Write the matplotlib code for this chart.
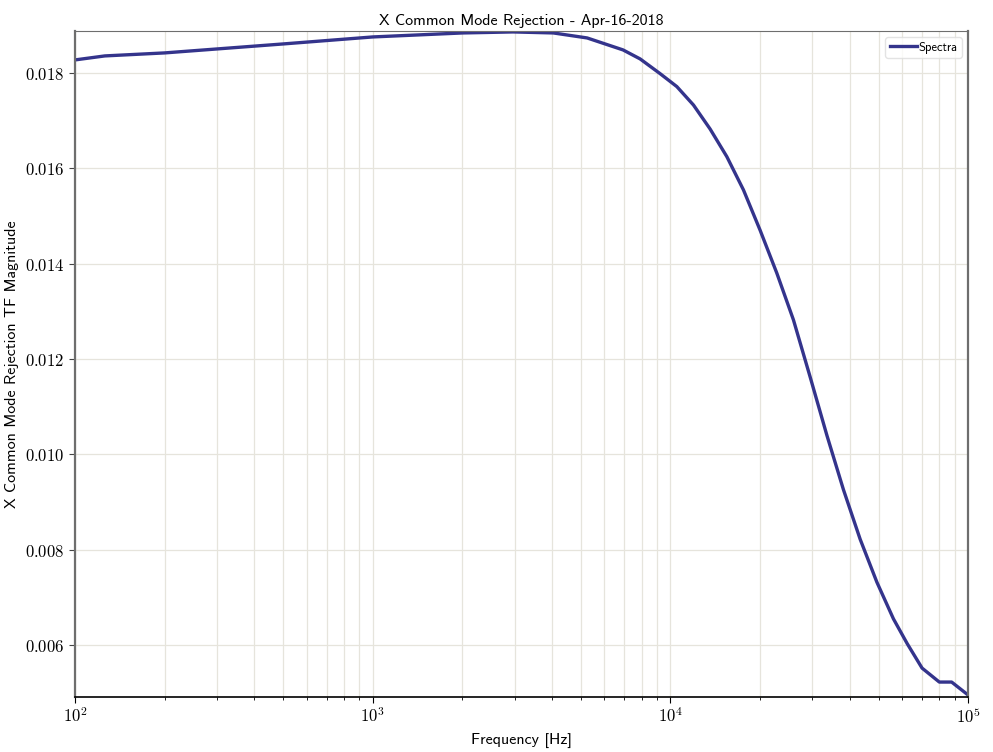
import math
import matplotlib
matplotlib.use('Agg')
import matplotlib.pyplot as plt
from matplotlib.ticker import FuncFormatter, FormatStrFormatter, LogLocator

plt.rcParams['mathtext.fontset'] = 'cm'
plt.rcParams['axes.formatter.use_mathtext'] = True

# values
freq = [100, 126, 200, 500, 1000, 2010, 2960, 4040, 5250, 6930, 7910, 9232,
        10505, 11950, 13590, 15470, 17590, 20010, 22770, 25890, 29470, 33530,
        38110, 43370, 49350, 56100, 62400, 70000, 80000, 88000, 100000]
mag = [0.018273, 0.018357, 0.018420, 0.018608, 0.018755, 0.018839, 0.018860,
       0.018839, 0.018734, 0.018483, 0.018294, 0.017985, 0.017714, 0.017327,
       0.016824, 0.016243, 0.015546, 0.014700, 0.013800, 0.012820, 0.011620,
       0.010400, 0.009260, 0.008220, 0.007320, 0.006550, 0.006030, 0.005517,
       0.005224, 0.005224, 0.004951]

title = 'X Common Mode Rejection - Apr-16-2018'
xlabel = 'Frequency [Hz]'
ylabel = 'X Common Mode Rejection TF Magnitude'

fig, ax = plt.subplots(figsize=(9.93, 7.52), dpi=100)
fig.subplots_adjust(left=0.0755, right=0.975, top=0.9588, bottom=0.0731)

ax.plot(freq, mag, color='#34348c', lw=2.4, label='Spectra')
ax.set_xscale('log')
ax.set_xlim(1e2, 1e5)
ax.set_ylim(0.00491, 0.01888)

ax.set_title(title, fontfamily='cmss10', fontsize=11.5, pad=4)
ax.set_xlabel(xlabel, fontfamily='cmss10', fontsize=11.5, labelpad=4)
ax.set_ylabel(ylabel, fontfamily='cmss10', fontsize=11.5, labelpad=4)

ax.xaxis.set_major_formatter(FuncFormatter(lambda v, p: r'$10^{%d}$' % round(math.log10(v))))
ax.xaxis.set_minor_locator(LogLocator(base=10, subs=range(2, 10)))
ax.xaxis.set_minor_formatter(FuncFormatter(lambda v, p: ''))
ax.yaxis.set_major_formatter(FormatStrFormatter('$%.3f$'))
ax.set_yticks([0.006, 0.008, 0.010, 0.012, 0.014, 0.016, 0.018])

ax.grid(True, which='both', axis='x', color='#e6e4dc', lw=0.9)
ax.grid(True, which='major', axis='y', color='#e6e4dc', lw=0.9)
ax.set_axisbelow(True)

for s in ['left', 'right', 'top']:
    ax.spines[s].set_color('#6e6e6e')
ax.spines['left'].set_linewidth(1.6)
ax.spines['right'].set_linewidth(1.6)
ax.spines['bottom'].set_color('black')
ax.spines['bottom'].set_linewidth(1.2)
ax.tick_params(axis='both', which='both', direction='out', labelsize=12, top=False, right=False)
ax.tick_params(axis='y', which='major', length=4, color='#444444')
ax.tick_params(axis='x', which='major', length=4)
ax.tick_params(axis='x', which='minor', length=2.5)

leg = ax.legend(loc='upper right', prop={'family': 'cmss10', 'size': 9},
                handlelength=2.2, handletextpad=0.1, borderpad=0.35, fancybox=True)
leg.get_frame().set_edgecolor('#dddddd')

fig.savefig('out.png', dpi=100)
